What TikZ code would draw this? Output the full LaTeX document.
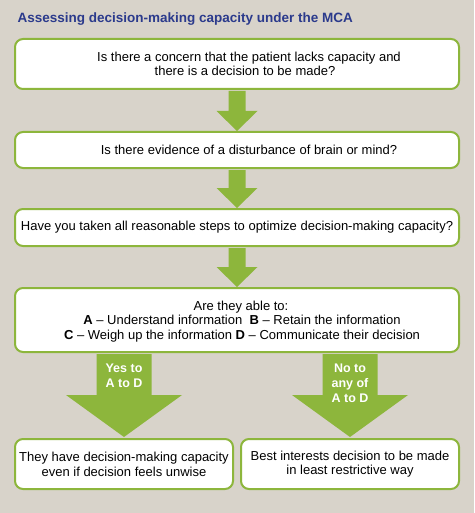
\documentclass[tikz,border=0pt]{standalone}
\usepackage{fontspec}
\setmainfont{Liberation Sans}
\usetikzlibrary{positioning, calc}

\definecolor{bggrey}{HTML}{D8D3CA}
\definecolor{mcagreen}{HTML}{8DB63C}
\definecolor{mcablue}{HTML}{2B3A8C}

\newcommand{\nudge}[1]{\hspace*{#1}}

\begin{document}
\begin{tikzpicture}[x=1pt, y=-1pt,
    qbox/.style={draw=mcagreen, line width=2pt, fill=white, rounded corners=8pt,
        minimum width=444pt, align=center, font=\fontsize{13}{14.7}\selectfont, inner sep=0pt},
    endbox/.style={qbox, minimum width=218pt, minimum height=50pt},
    arrowlbl/.style={text=white, font=\bfseries\fontsize{12.5}{14.8}\selectfont, align=center}]
    \fill[bggrey] (0,0) rectangle (474,513);
    \useasboundingbox (0,0) rectangle (474,513);

    \node[anchor=west, text=mcablue, font=\bfseries\fontsize{13.5}{15}\selectfont] (title) at (14,19)
        {Assessing decision-making capacity under the MCA};

    \node[qbox, minimum height=50pt] (concern) at (237,64)
        {\nudge{24pt}Is there a concern that the patient lacks capacity and\\\nudge{16pt}there is a decision to be made?};
    \node[qbox, minimum height=36pt] (disturb) at (237,150)
        {\nudge{24pt}Is there evidence of a disturbance of brain or mind?};
    \node[qbox, minimum height=37pt] (steps) at (237,227.5)
        {Have you taken all reasonable steps to optimize decision-making capacity?};
    \node[qbox, minimum height=64pt, text depth=-2pt] (able) at (237,320)
        {\nudge{8pt}Are they able to:\\
         \nudge{10pt}\textbf{A} -- Understand information\ \ \textbf{B} -- Retain the information\\
         \nudge{10pt}\textbf{C} -- Weigh up the information \textbf{D} -- Communicate their decision};
    \node[endbox] (capacity) at (124,464)
        {They have decision-making capacity\\even if decision feels unwise};
    \node[endbox] (interests) at (350,464)
        {Best interests decision to be made\\in least restrictive way};

    % small arrows between questions
    \foreach \a/\b in {concern/disturb, disturb/steps, steps/able}
        \fill[mcagreen] ($(\a.south)+(-8.5,1)$) -- ($(\b.north)+(-8.5,-20)$)
            -- ($(\b.north)+(-20.5,-20)$) -- (\b.north) -- ($(\b.north)+(20.5,-20)$)
            -- ($(\b.north)+(8.5,-20)$) -- ($(\a.south)+(8.5,1)$) -- cycle;

    % big arrows to the outcomes
    \foreach \b in {capacity, interests}
        \fill[mcagreen] ($(able.south -| \b.north)+(-27.5,1)$) -- ($(\b.north)+(-27.5,-43)$)
            -- ($(\b.north)+(-58,-43)$) -- ($(\b.north)+(0,-1)$) -- ($(\b.north)+(58,-43)$)
            -- ($(\b.north)+(27.5,-43)$) -- ($(able.south -| \b.north)+(27.5,1)$) -- cycle;

    \node[arrowlbl] (yes) at (124,375.5) {Yes to\\A to D};
    \node[arrowlbl] (no) at (350,383) {No to\\any of\\A to D};
\end{tikzpicture}
\end{document}
